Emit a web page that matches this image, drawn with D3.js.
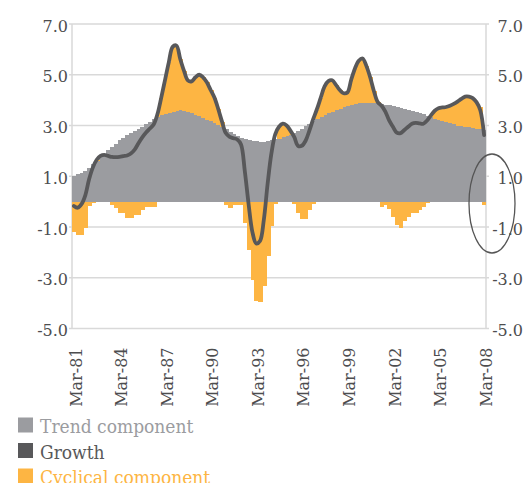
<!DOCTYPE html>
<html>
<head>
<meta charset="utf-8">
<script src="https://cdn.jsdelivr.net/npm/d3@7"></script>
<style>
  html, body { margin: 0; padding: 0; background: #fff; }
  svg { display: block; }
</style>
</head>
<body>
<svg id="chart" width="526" height="483"></svg>
<script>
// ---------- data ----------
const years = ["81","82","83","84","85","86","87","88","89","90","91","92","93","94","95","96","97","98","99","00","01","02","03","04","05","06","07","08"];
const months = ["Mar","Jun","Sep","Dec"];
const quarters = [];
years.forEach((yr, yi) => months.forEach((m, mi) => {
  if (yi < years.length - 1 || mi === 0) quarters.push(m + "-" + yr);
}));

const tickLabels = ["Mar-81","Mar-84","Mar-87","Mar-90","Mar-93","Mar-96","Mar-99","Mar-02","Mar-05","Mar-08"];
const yTicks = [-5, -3, -1, 1, 3, 5, 7];

const trend = [
  1.02,1.07,1.12,1.20,1.32,1.48,1.62,1.76,1.89,2.02,
  2.14,2.29,2.42,2.52,2.62,2.70,2.78,2.86,2.95,3.04,
  3.15,3.24,3.32,3.40,3.46,3.51,3.55,3.58,3.60,3.58,
  3.54,3.49,3.43,3.37,3.30,3.23,3.16,3.09,3.02,2.95,
  2.85,2.75,2.65,2.58,2.52,2.47,2.43,2.40,2.37,2.35,
  2.36,2.39,2.42,2.45,2.48,2.54,2.59,2.64,2.69,2.78,
  2.88,2.97,3.06,3.16,3.26,3.35,3.42,3.49,3.55,3.61,
  3.66,3.71,3.75,3.79,3.83,3.87,3.89,3.89,3.89,3.89,
  3.88,3.85,3.82,3.80,3.77,3.73,3.70,3.66,3.62,3.58,
  3.53,3.48,3.44,3.39,3.33,3.27,3.21,3.16,3.12,3.08,
  3.04,3.00,2.98,2.96,2.93,2.90,2.88,2.86,2.83
];

const cyclical = [
  -1.20,-1.30,-1.30,-1.04,-0.18,-0.05,0.04,0.05,0.00,0.00,
  -0.13,-0.26,-0.46,-0.46,-0.65,-0.65,-0.52,-0.52,-0.33,-0.20,
  -0.20,-0.20,0.13,0.70,1.34,1.99,2.55,2.57,2.02,1.57,
  1.24,1.25,1.47,1.63,1.60,1.47,1.24,1.01,0.63,0.20,
  -0.13,-0.26,-0.13,-0.13,-0.13,-0.83,-1.89,-3.07,-3.92,-3.96,
  -3.33,-2.15,-0.97,-0.10,0.47,0.53,0.41,0.16,-0.10,-0.45,
  -0.67,-0.67,-0.33,-0.10,0.35,0.75,1.12,1.26,1.23,0.99,
  0.74,0.56,0.55,1.01,1.42,1.68,1.75,1.46,1.01,0.46,
  0.04,-0.20,-0.15,-0.30,-0.60,-0.92,-1.05,-0.78,-0.59,-0.46,
  -0.46,-0.33,-0.20,-0.07,0.07,0.31,0.47,0.55,0.61,0.70,
  0.81,0.94,1.07,1.18,1.19,1.15,1.02,0.85,-0.15
];

const growth = [
  -0.17,-0.24,-0.10,0.25,0.88,1.35,1.65,1.80,1.84,1.80,
  1.76,1.75,1.76,1.79,1.82,1.90,2.05,2.30,2.53,2.72,
  2.88,3.04,3.45,4.10,4.80,5.50,6.10,6.15,5.62,5.15,
  4.78,4.74,4.90,5.00,4.90,4.70,4.40,4.10,3.65,3.15,
  2.70,2.55,2.50,2.45,2.25,1.20,-0.10,-1.20,-1.65,-1.55,
  -0.72,0.70,1.90,2.65,2.95,3.07,3.00,2.80,2.55,2.20,
  2.20,2.40,2.80,3.25,3.65,4.10,4.54,4.75,4.78,4.60,
  4.40,4.27,4.30,4.80,5.25,5.55,5.64,5.35,4.90,4.35,
  3.92,3.78,3.55,3.20,2.95,2.72,2.70,2.82,2.95,3.07,
  3.10,3.08,3.07,3.20,3.40,3.58,3.68,3.71,3.73,3.78,
  3.85,3.94,4.05,4.14,4.14,4.08,3.92,3.60,2.62
];

const legendItems = ["Trend component", "Growth", "Cyclical component"];

// ---------- style ----------
const C_TREND = "#9b9ca0";
const C_CYC = "#fdb543";
const C_GROWTH = "#58585a";
const C_GRID = "#d9d9d9";
const C_TEXT = "#4d4d4f";
const FONT = "'DejaVu Serif', serif";

const svg = d3.select("#chart");
const pLeft = 72, pRight = 486, pTop = 24, pBottom = 328.5;

const x = d3.scaleBand().domain(quarters).range([pLeft, pRight]).padding(0);
const y = d3.scaleLinear().domain([-5, 7]).range([pBottom, pTop]);
const bw = x.bandwidth();

// gridlines
svg.append("g").selectAll("line").data(yTicks).join("line")
  .attr("x1", pLeft - 3).attr("x2", pRight + 3)
  .attr("y1", d => y(d)).attr("y2", d => y(d))
  .attr("stroke", C_GRID).attr("stroke-width", 1.5);

// axis lines
svg.append("line").attr("x1", pLeft).attr("x2", pLeft).attr("y1", pTop).attr("y2", pBottom)
  .attr("stroke", C_GRID).attr("stroke-width", 1.5);
svg.append("line").attr("x1", pRight).attr("x2", pRight).attr("y1", pTop).attr("y2", pBottom)
  .attr("stroke", C_GRID).attr("stroke-width", 1.5);

// bars: trend
const bars = svg.append("g").attr("shape-rendering", "crispEdges");
bars.selectAll("rect.t").data(quarters).join("rect").attr("class", "t")
  .attr("x", d => x(d)).attr("width", (d, i) => i === quarters.length - 1 ? bw : bw + 1)
  .attr("y", (d, i) => y(trend[i]))
  .attr("height", (d, i) => y(0) - y(trend[i]))
  .attr("fill", C_TREND);

// bars: cyclical (stacked)
bars.selectAll("rect.c").data(quarters).join("rect").attr("class", "c")
  .attr("x", d => x(d)).attr("width", (d, i) => i === quarters.length - 1 ? bw : bw + 1)
  .attr("y", (d, i) => cyclical[i] >= 0 ? y(trend[i] + cyclical[i]) : y(0))
  .attr("height", (d, i) => cyclical[i] >= 0 ? y(trend[i]) - y(trend[i] + cyclical[i]) : y(cyclical[i]) - y(0))
  .attr("fill", C_CYC);

// growth line
const line = d3.line()
  .x((d, i) => x(quarters[i]) + bw / 2)
  .y(d => y(d))
  .curve(d3.curveCatmullRom.alpha(0.5));
svg.append("path").datum(growth)
  .attr("d", line)
  .attr("fill", "none")
  .attr("stroke", C_GROWTH)
  .attr("stroke-width", 3.8)
  .attr("stroke-linejoin", "round")
  .attr("stroke-linecap", "round");

// y axis labels
const fmt = v => d3.format(".1f")(v).replace("\u2212", "-");
svg.append("g").selectAll("text").data(yTicks).join("text")
  .attr("x", pLeft - 4).attr("y", d => y(d)).attr("dy", "0.48em")
  .attr("text-anchor", "end")
  .attr("font-family", FONT).attr("font-size", 16).attr("fill", C_TEXT)
  .text(d => fmt(d));
svg.append("g").selectAll("text").data(yTicks).join("text")
  .attr("x", 523).attr("y", d => y(d)).attr("dy", "0.48em")
  .attr("text-anchor", "end")
  .attr("font-family", FONT).attr("font-size", 16).attr("fill", C_TEXT)
  .text(d => fmt(d));

// x axis labels
svg.append("g").selectAll("text").data(tickLabels).join("text")
  .attr("transform", d => `translate(${x(d) + bw / 2 + 2},${pBottom + 19}) rotate(-90)`)
  .attr("dy", "0.35em")
  .attr("text-anchor", "end")
  .attr("font-family", FONT).attr("font-size", 16).attr("fill", C_TEXT)
  .text(d => d);

// ellipse annotation
svg.append("ellipse")
  .attr("cx", 492).attr("cy", 203.5).attr("rx", 23).attr("ry", 49.5)
  .attr("fill", "none").attr("stroke", "#555").attr("stroke-width", 1.3);

// legend
const legColors = [C_TREND, C_GROWTH, C_CYC];
const leg = svg.append("g").selectAll("g").data(legendItems).join("g")
  .attr("transform", (d, i) => `translate(18,${417.5 + i * 25.5})`);
leg.append("rect").attr("width", 15).attr("height", 15).attr("fill", (d, i) => legColors[i]);
leg.append("text")
  .attr("x", 22).attr("y", 15.5)
  .attr("font-family", "'DejaVu Serif Condensed', 'DejaVu Serif', serif")
  .style("font-stretch", "condensed")
  .attr("font-size", 19)
  .attr("fill", (d, i) => legColors[i])
  .text(d => d);
</script>
</body>
</html>
